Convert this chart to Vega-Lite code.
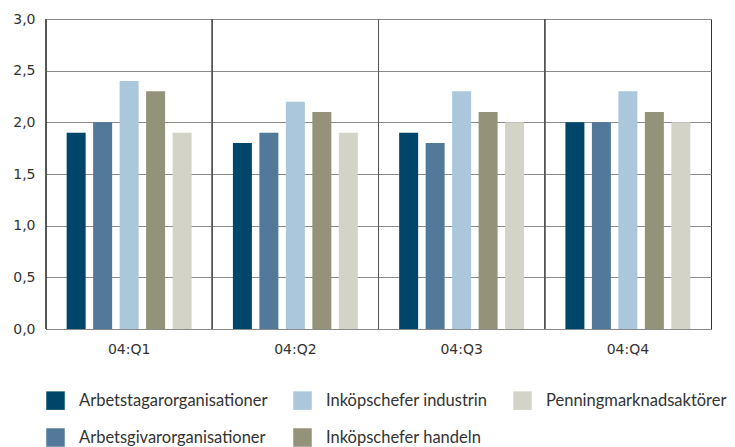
{
  "$schema": "https://vega.github.io/schema/vega-lite/v6.json",
  "width": 665,
  "height": 310,
  "autosize": {"type": "none"},
  "padding": {"left": 46, "top": 19, "right": 24, "bottom": 118},
  "background": "white",
  "config": {
    "view": {"stroke": "#333333", "strokeWidth": 1},
    "font": "DejaVu Sans"
  },
  "data": {
    "values": [
      {"quarter": "04:Q1", "series": "Arbetstagarorganisationer", "value": 1.9},
      {"quarter": "04:Q1", "series": "Arbetsgivarorganisationer", "value": 2.0},
      {"quarter": "04:Q1", "series": "Inköpschefer industrin", "value": 2.4},
      {"quarter": "04:Q1", "series": "Inköpschefer handeln", "value": 2.3},
      {"quarter": "04:Q1", "series": "Penningmarknadsaktörer", "value": 1.9},
      {"quarter": "04:Q2", "series": "Arbetstagarorganisationer", "value": 1.8},
      {"quarter": "04:Q2", "series": "Arbetsgivarorganisationer", "value": 1.9},
      {"quarter": "04:Q2", "series": "Inköpschefer industrin", "value": 2.2},
      {"quarter": "04:Q2", "series": "Inköpschefer handeln", "value": 2.1},
      {"quarter": "04:Q2", "series": "Penningmarknadsaktörer", "value": 1.9},
      {"quarter": "04:Q3", "series": "Arbetstagarorganisationer", "value": 1.9},
      {"quarter": "04:Q3", "series": "Arbetsgivarorganisationer", "value": 1.8},
      {"quarter": "04:Q3", "series": "Inköpschefer industrin", "value": 2.3},
      {"quarter": "04:Q3", "series": "Inköpschefer handeln", "value": 2.1},
      {"quarter": "04:Q3", "series": "Penningmarknadsaktörer", "value": 2.0},
      {"quarter": "04:Q4", "series": "Arbetstagarorganisationer", "value": 2.0},
      {"quarter": "04:Q4", "series": "Arbetsgivarorganisationer", "value": 2.0},
      {"quarter": "04:Q4", "series": "Inköpschefer industrin", "value": 2.3},
      {"quarter": "04:Q4", "series": "Inköpschefer handeln", "value": 2.1},
      {"quarter": "04:Q4", "series": "Penningmarknadsaktörer", "value": 2.0}
    ]
  },
  "layer": [
    {
      "mark": {"type": "bar"},
      "encoding": {
        "x": {
          "field": "quarter",
          "type": "nominal",
          "scale": {"paddingInner": 0, "paddingOuter": 0},
          "axis": {
            "title": null,
            "labelAngle": 0,
            "ticks": false,
            "domain": false,
            "labelPadding": 13,
            "labelFontSize": 14,
            "labelColor": "#333333"
          }
        },
        "xOffset": {
          "field": "series",
          "type": "nominal",
          "sort": ["Arbetstagarorganisationer", "Arbetsgivarorganisationer", "Inköpschefer industrin", "Inköpschefer handeln", "Penningmarknadsaktörer"],
          "scale": {"paddingInner": 0.283, "paddingOuter": 0.78}
        },
        "y": {
          "field": "value",
          "type": "quantitative",
          "scale": {"domain": [0, 3], "nice": false},
          "axis": {
            "title": null,
            "values": [0, 0.5, 1, 1.5, 2, 2.5, 3],
            "labelExpr": "replace(format(datum.value, '.1f'), '.', ',')",
            "grid": true,
            "gridColor": "#8a8a8a",
            "gridOpacity": 1,
            "ticks": false,
            "domainColor": "#333333",
            "labelPadding": 11,
            "labelFontSize": 14,
            "labelColor": "#333333"
          }
        },
        "color": {
          "field": "series",
          "type": "nominal",
          "scale": {
            "domain": ["Arbetstagarorganisationer", "Arbetsgivarorganisationer", "Inköpschefer industrin", "Inköpschefer handeln", "Penningmarknadsaktörer"],
            "range": ["#00466a", "#52799a", "#abc7dc", "#95927a", "#d3d3c7"]
          },
          "legend": {
            "orient": "none",
            "legendX": 0,
            "legendY": 372,
            "columns": 3,
            "title": null,
            "symbolType": "square",
            "symbolSize": 342,
            "symbolStrokeWidth": 0,
            "labelFontSize": 16.5,
            "labelFont": "Lato",
            "labelColor": "#333333",
            "labelOffset": 14,
            "columnPadding": 25,
            "rowPadding": 18,
            "labelLimit": 300
          }
        }
      }
    },
    {
      "mark": {"type": "rule", "color": "#555555", "strokeWidth": 1},
      "encoding": {
        "x": {"field": "quarter", "type": "nominal", "bandPosition": 0}
      }
    }
  ]
}
